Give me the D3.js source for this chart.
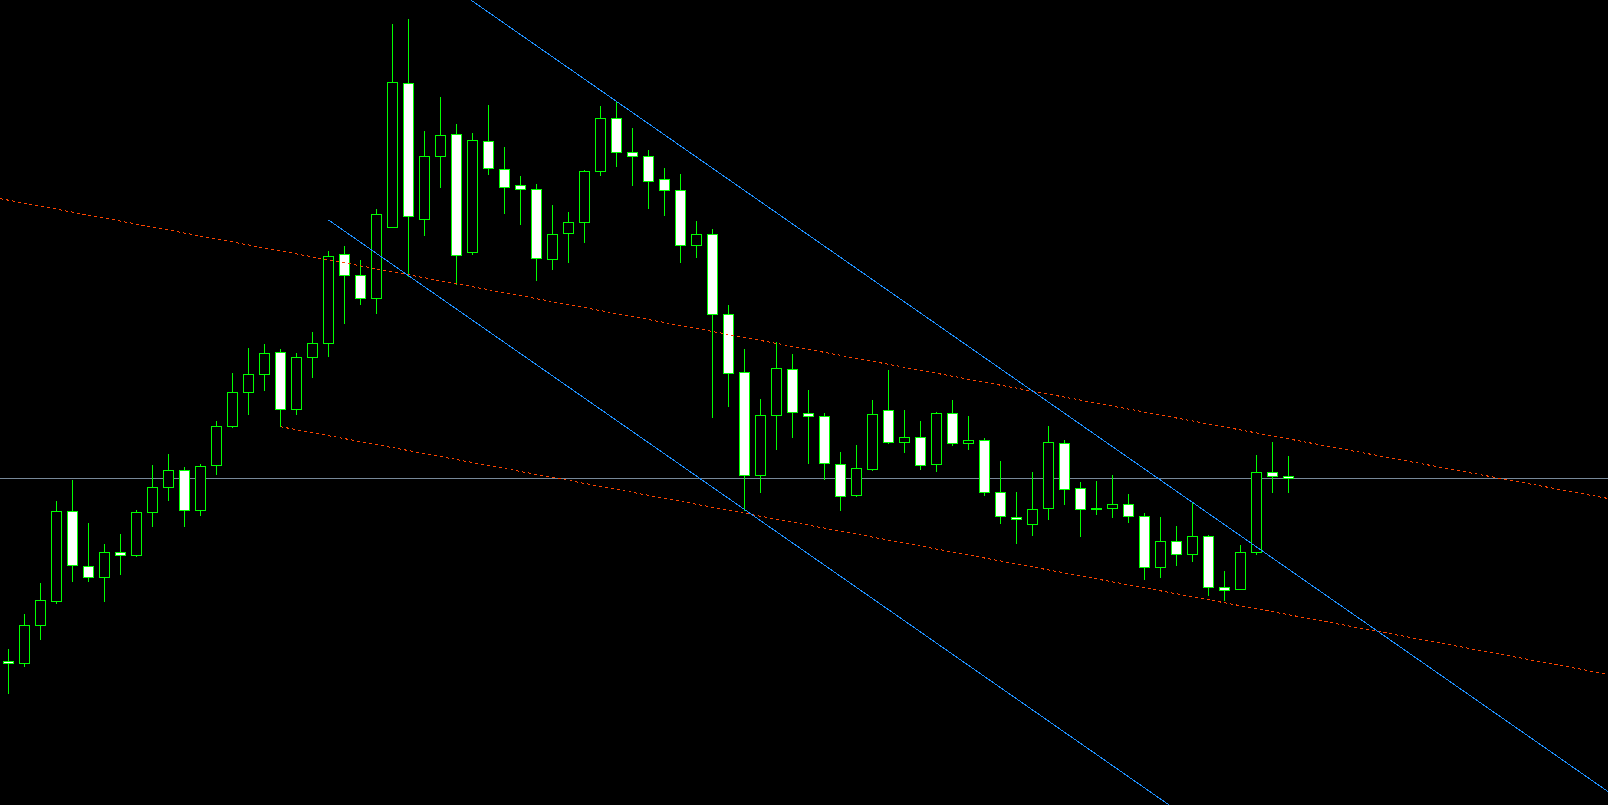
<!DOCTYPE html>
<html>
<head>
<meta charset="utf-8">
<script src="https://cdn.jsdelivr.net/npm/d3@7"></script>
<style>
  html, body { margin: 0; padding: 0; background: #000; overflow: hidden; }
  svg { display: block; }
</style>
</head>
<body>
<div id="chart"></div>
<script>
// OHLC (arbitrary price units, higher = up)
var open  = [338.7,336.7,374.7,398.3,488.7,433.7,422.7,447.7,444.7,487.7,512.7,529.7,489.7,534.3,573.3,607.3,625.3,647.7,590.3,642.7,
             656.7,745.7,724.7,701.7,772.7,916.7,780.7,843.7,865.7,747.7,858.7,830.7,814.7,810.7,740.7,766.7,777.7,828.7,881.7,847.7,
             843.7,820.7,809.7,754.7,765.7,685.7,627.7,524.7,584.7,630.7,586.7,583.7,535.7,504.3,530.7,589.7,557.7,562.7,535.7,586.7,
             556.7,559.7,507.7,482.7,475.7,491.7,556.7,511.7,491.7,491.7,495.7,483.7,432.7,458.7,445.7,463.7,412.7,410.7,447.7,527.7,523.7]
var high  = [351,386,417,499,520,477,456,466,490,535,546,532,536,579,627,652,656,651,646.7,667,
             748,753,740,790.3,975,981,869,903,876,866,895,852,824,815.7,795,788,829.7,893,897.3,871,
             850,832,825,779,770.7,694,651,601,657.7,645.7,610,586.7,548,554.7,599,630,590,579,588,599,
             584,561.7,538.7,507.7,527.7,573.7,559.7,518,519,524,506,486.7,482.7,473.7,496.7,464.7,429,454.7,544.7,557.7,543.7]
var low   = [307,333.3,360.3,396.3,418.3,418.3,398.3,425.3,443.3,473.3,499.3,473.3,484.3,526,572.3,585.3,609.3,573.3,585.3,622.3,
             643.3,676.3,695.3,686.3,772.7,723.3,764.3,812.3,715.3,745.7,825.7,786.7,775.3,719.3,730.7,737.3,757.3,824.3,833.3,815,
             791.3,784.3,737.3,742.3,582.3,593.3,490,507.3,550.3,562.3,536.3,520.3,490,503.3,529.3,556.3,547.3,530.3,528.3,555,
             550.3,504.3,476.3,456.3,464.3,480.3,495.3,463.3,485.3,482.3,477.3,420.3,422.3,434.3,438.3,404.3,399.3,410.7,445.3,507.3,507.3]
var close = [336.7,374.7,399.7,488.7,434.7,422.7,447.7,444.7,487.7,512.7,529.7,489.7,533.7,573.7,607.7,625.7,646.7,590.3,642.7,656.7,
             743.7,724.7,701.7,785.7,917.7,783.7,843.7,864.7,744.7,859.7,831.7,812.7,810.7,741.7,765.7,777.7,828.7,881.7,847.7,843.7,
             818.7,809.7,754.7,765.7,685.7,626.7,524.7,584.7,631.7,587.7,583.7,536.3,503.7,531.7,585.7,557.7,562.7,534.7,586.7,556.7,
             559.7,507.7,483.7,480.7,490.7,557.7,510.7,490.7,490.7,495.7,483.7,432.7,458.7,445.7,463.7,412.7,409.7,447.7,527.7,523.7,521.7]

// drawn objects: two anchor points (bar index, price)
var channelLines = [
  {name: 'redUpper',  p1: [0, 799.8],  p2: [80, 561.1], extend: 'both',  color: '#ff4500', dash: '3,3'},
  {name: 'redLower',  p1: [17, 573.3], p2: [80, 385.3], extend: 'right', color: '#ff4500', dash: '3,3'},
  {name: 'blueUpper', p1: [40, 876.3], p2: [80, 430.8], extend: 'both',  color: '#1e90ff', dash: null},
  {name: 'blueLower', p1: [20, 780],   p2: [46, 490.5], extend: 'right', color: '#1e90ff', dash: null}
]

var width = 1608, height = 805
var barSpacing = 16, bodyHalf = 5
var n = close.length

var data = close.map(function(c, i){
  return {i: i, o: open[i], h: high[i], l: low[i], c: c}
})

var x = d3.scaleLinear().domain([0, n - 1]).range([8.5, 8.5 + barSpacing * (n - 1)])
var y = d3.scaleLinear().domain([1000, 195]).range([0, 805])
var py = function(p){ return Math.floor(y(p)) + 0.5 }

var svg = d3.select('#chart').append('svg')
  .attr('width', width)
  .attr('height', height)
  .style('background', '#000')

svg.append('rect').attr('width', width).attr('height', height).attr('fill', '#000')

// last price line (behind the candles)
var lastPrice = close[n - 1]
svg.append('line')
  .attr('x1', 0).attr('x2', width)
  .attr('y1', py(lastPrice)).attr('y2', py(lastPrice))
  .attr('stroke', '#778899')
  .attr('stroke-width', 1)
  .attr('shape-rendering', 'crispEdges')

var candles = svg.append('g').attr('shape-rendering', 'crispEdges')

candles.selectAll('line.wick')
  .data(data)
  .enter().append('line')
  .attr('class', 'wick')
  .attr('x1', function(d){ return x(d.i) })
  .attr('x2', function(d){ return x(d.i) })
  .attr('y1', function(d){ return py(d.h) - 0.5 })
  .attr('y2', function(d){ return py(d.l) + 0.5 })
  .attr('stroke', '#00ff00')
  .attr('stroke-width', 1)

candles.selectAll('rect.body')
  .data(data)
  .enter().append('rect')
  .attr('class', 'body')
  .attr('x', function(d){ return x(d.i) - bodyHalf })
  .attr('width', bodyHalf * 2)
  .attr('y', function(d){ return py(Math.max(d.o, d.c)) })
  .attr('height', function(d){ return Math.max(0, py(Math.min(d.o, d.c)) - py(Math.max(d.o, d.c))) })
  .attr('fill', function(d){ return d.c > d.o ? '#000' : '#fff' })
  .attr('stroke', '#00ff00')
  .attr('stroke-width', 1)

// trend channel lines (drawn on top)
function linePoints(L){
  var x1 = x(L.p1[0]), y1 = y(L.p1[1])
  var x2 = x(L.p2[0]), y2 = y(L.p2[1])
  var k = (y2 - y1) / (x2 - x1)
  var xa = L.extend === 'both' ? 0 : x1
  var xb = width
  return [[xa, y1 + k * (xa - x1)], [xb, y1 + k * (xb - x1)]]
}

svg.append('g')
  .selectAll('line.obj')
  .data(channelLines)
  .enter().append('line')
  .attr('class', 'obj')
  .each(function(L){
    var pts = linePoints(L)
    d3.select(this)
      .attr('x1', pts[0][0]).attr('y1', pts[0][1])
      .attr('x2', pts[1][0]).attr('y2', pts[1][1])
  })
  .attr('stroke', function(L){ return L.color })
  .attr('stroke-width', 1)
  .attr('stroke-dasharray', function(L){ return L.dash })
  .attr('shape-rendering', 'crispEdges')
</script>
</body>
</html>
